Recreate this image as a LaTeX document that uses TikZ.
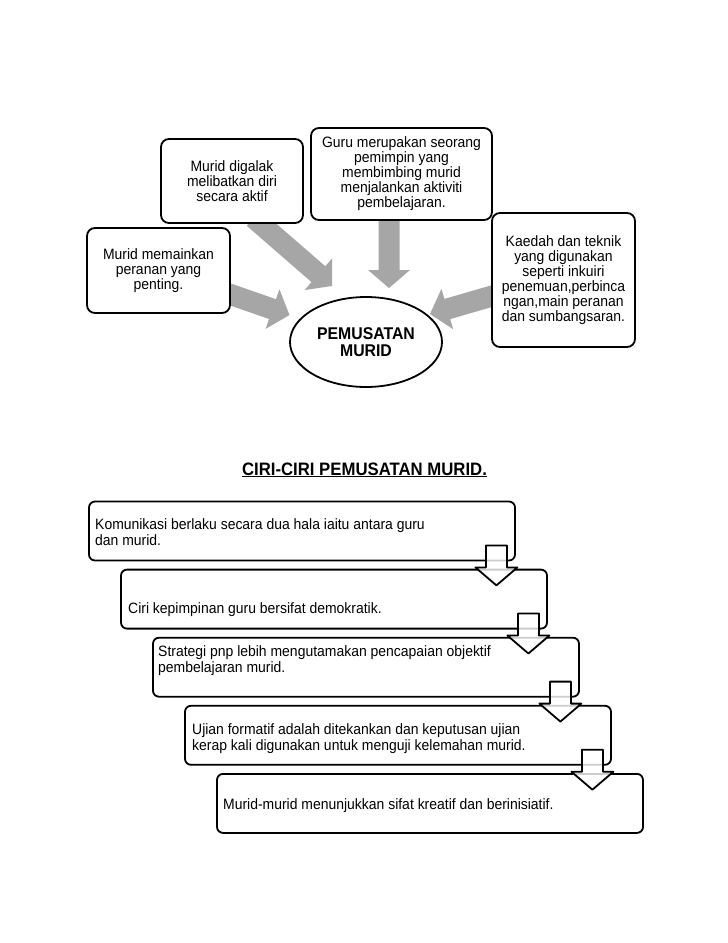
\documentclass[tikz,border=0pt]{standalone}
\usepackage{fontspec}
\setmainfont{Liberation Sans}[FakeStretch=0.93]
\usetikzlibrary{calc,shapes.geometric}
\definecolor{abu}{RGB}{166,166,166}
\pgfdeclarelayer{background}
\pgfsetlayers{background,main}

\begin{document}
\begin{tikzpicture}[x=1pt,y=-1pt,line join=round,
	kotak/.style={draw,fill=white,line width=1.8pt,rounded corners=8pt,align=center,inner sep=0pt,font=\fontsize{15}{15}\selectfont},
	ciri/.style={draw,fill=white,line width=1.8pt,rounded corners=6pt,minimum width=426,minimum height=59},
	teks/.style={anchor=north west,inner sep=0pt,align=left,font=\fontsize{15}{16.5}\selectfont},
	putih/.style={draw=black,line width=1.8pt,fill=white,fill opacity=0.8},
	kelabu/.style={fill=abu}]
	\def\panah[#1](#2)(#3){%
		\coordinate (hb) at ($(#3)!18pt!(#2)$);
		\path[#1] ($(#2)!10.5pt!90:(#3)$) -- ($(hb)!10.5pt!90:(#3)$) -- ($(hb)!21pt!90:(#3)$) -- (#3)
		-- ($(hb)!21pt!-90:(#3)$) -- ($(hb)!10.5pt!-90:(#3)$) -- ($(#2)!10.5pt!-90:(#3)$) -- cycle;}
	\useasboundingbox (0,0) rectangle (728,943);
	
	% peta pemusatan murid
	\node[kotak,minimum width=143,minimum height=85] (b1) at (158.5,270.5) {Murid memainkan\\peranan yang\\penting.};
	\node[kotak,minimum width=142,minimum height=84] (b2) at (232,181) {Murid digalak\\melibatkan diri\\secara aktif};
	\node[kotak,minimum width=181,minimum height=92] (b3) at (401.5,174) {Guru merupakan seorang\\pemimpin yang\\membimbing murid\\menjalankan aktiviti\\pembelajaran.};
	\node[kotak,minimum width=143,minimum height=134] (b4) at (563.5,280) {Kaedah dan teknik\\yang digunakan\\seperti inkuiri\\penemuan,perbinca\\ngan,main peranan\\dan sumbangsaran.};
	\node[ellipse,draw,fill=white,line width=1.8pt,minimum width=152,minimum height=90,inner sep=0pt,align=center,font=\bfseries\fontsize{17}{17}\selectfont] (pusat) at (366,342) {PEMUSATAN\\MURID};
	
	\begin{pgfonlayer}{background}
		\coordinate (ekor1) at ($(b1.east)+(-7.5,21.5)$);
		\coordinate (ekor2) at ($(b2.south)+(21.7,-6)$);
		\coordinate (ekor3) at ($(b3.south)+(-12.5,-8)$);
		\coordinate (ekor4) at ($(b4.west)+(9.7,13.5)$);
		\coordinate (hujung1) at ($(pusat)+(-76.5,-27)$);
		\coordinate (hujung2) at ($(pusat)+(-34,-56)$);
		\coordinate (hujung3) at ($(pusat)+(23,-54)$);
		\coordinate (hujung4) at ($(pusat)+(64,-28)$);
		\foreach \i in {1,...,4}{\panah[kelabu](ekor\i)(hujung\i)}
	\end{pgfonlayer}
	
	% ciri-ciri
	\node[font=\bfseries\fontsize{18}{18}\selectfont,anchor=base] (judul) at (364.5,475) {\underline{CIRI-CIRI PEMUSATAN MURID.}};
	\foreach \i in {1,...,5}
		\node[ciri] (k\i) at ({302+32*(\i-1)},{531+68.1*(\i-1)}) {};
	\node[teks] (t1) at (95,518) {Komunikasi berlaku secara dua hala iaitu antara guru\\dan murid.};
	\node[teks] (t2) at (128,602) {Ciri kepimpinan guru bersifat demokratik.};
	\node[teks] (t3) at (158,645) {Strategi pnp lebih mengutamakan pencapaian objektif\\pembelajaran murid.};
	\node[teks] (t4) at (192,723) {Ujian formatif adalah ditekankan dan keputusan ujian\\kerap kali digunakan untuk menguji kelemahan murid.};
	\node[teks] (t5) at (223,798) {Murid-murid menunjukkan sifat kreatif dan berinisiatif.};
	\foreach \i in {1,...,4}{
		\coordinate (a\i) at ($(k\i.south east)+(-19.5,-16)$);
		\coordinate (z\i) at ($(k\i.south east)+(-19.5,24)$);
		\panah[putih](a\i)(z\i)
	}
\end{tikzpicture}
\end{document}
